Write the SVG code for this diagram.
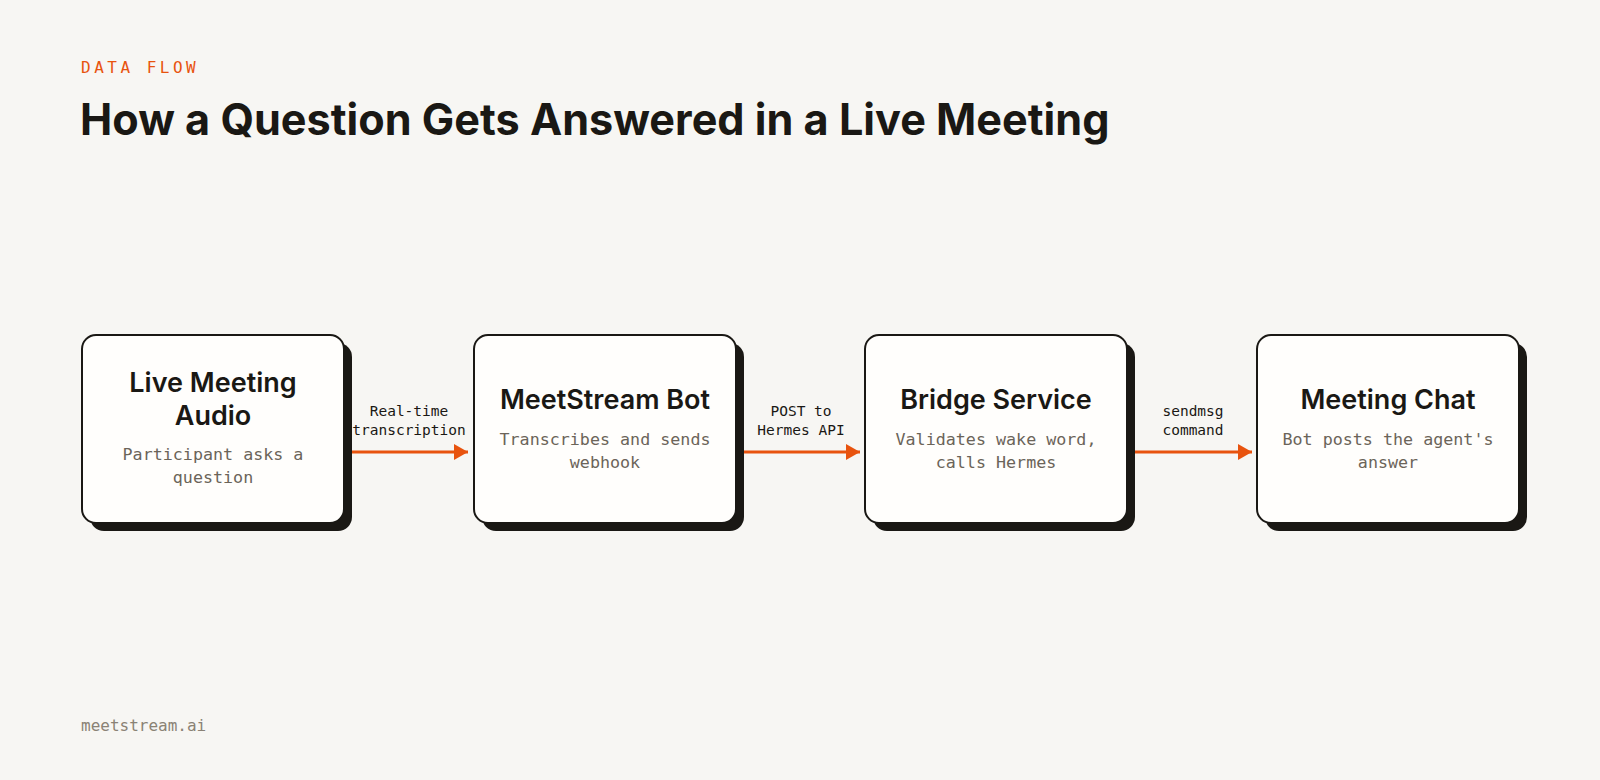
<svg xmlns="http://www.w3.org/2000/svg" width="1600" height="780" viewBox="0 0 1600 780">
<defs>
<style>
.sh{fill:#1a1814}
.bx{fill:#fffefc;stroke:#1a1814;stroke-width:2}
.t{font-family:Inter,"Liberation Sans",sans-serif;font-weight:600;font-size:27px;fill:#1a1814;text-anchor:middle}
.s{font-family:"DejaVu Sans Mono","Liberation Mono",monospace;font-size:16.7px;fill:#6b6459;text-anchor:middle}
.l{font-family:"DejaVu Sans Mono","Liberation Mono",monospace;font-size:14.5px;fill:#1a1814;text-anchor:middle}
.c{stroke:#e8530e;stroke-width:3;fill:none}
</style>
<marker id="a" markerWidth="14" markerHeight="16" refX="14" refY="8" orient="auto" markerUnits="userSpaceOnUse" viewBox="0 0 14 16"><path d="M0,0 L14,8 L0,16 z" fill="#e8530e"/></marker>
</defs>
<rect width="1600" height="780" fill="#f7f6f3"/>
<text x="81" y="73" font-family="DejaVu Sans Mono,Liberation Mono,monospace" font-size="16" letter-spacing="3.5" fill="#e8530e">DATA FLOW</text>
<text x="80" y="135" font-family="Inter,Liberation Sans,sans-serif" font-weight="700" font-size="43.2" fill="#1a1814">How a Question Gets Answered in a Live Meeting</text>
<g id="n1"><rect class="sh" x="90" y="343" width="262" height="188" rx="14"/><rect class="bx" x="82" y="335" width="262" height="188" rx="14"/>
<text class="t" x="213" y="392">Live Meeting</text><text class="t" x="213" y="425">Audio</text>
<text class="s" x="213" y="460">Participant asks a</text><text class="s" x="213" y="483">question</text></g>
<g id="n2"><rect class="sh" x="482" y="343" width="262" height="188" rx="14"/><rect class="bx" x="474" y="335" width="262" height="188" rx="14"/>
<text class="t" x="605" y="409">MeetStream Bot</text>
<text class="s" x="605" y="445">Transcribes and sends</text><text class="s" x="605" y="468">webhook</text></g>
<g id="n3"><rect class="sh" x="873" y="343" width="262" height="188" rx="14"/><rect class="bx" x="865" y="335" width="262" height="188" rx="14"/>
<text class="t" x="996" y="409">Bridge Service</text>
<text class="s" x="996" y="445">Validates wake word,</text><text class="s" x="996" y="468">calls Hermes</text></g>
<g id="n4"><rect class="sh" x="1265" y="343" width="262" height="188" rx="14"/><rect class="bx" x="1257" y="335" width="262" height="188" rx="14"/>
<text class="t" x="1388" y="409">Meeting Chat</text>
<text class="s" x="1388" y="445">Bot posts the agent's</text><text class="s" x="1388" y="468">answer</text></g>
<g id="connectors">
<path class="c" d="M352,452 H468" marker-end="url(#a)"/>
<path class="c" d="M744,452 H860" marker-end="url(#a)"/>
<path class="c" d="M1135,452 H1252" marker-end="url(#a)"/>
<text class="l" x="409" y="416">Real-time</text><text class="l" x="409" y="435">transcription</text>
<text class="l" x="801" y="416">POST to</text><text class="l" x="801" y="435">Hermes API</text>
<text class="l" x="1193" y="416">sendmsg</text><text class="l" x="1193" y="435">command</text>
</g>
<text x="81" y="731" font-family="DejaVu Sans Mono,Liberation Mono,monospace" font-size="16" fill="#8a8275">meetstream.ai</text>
</svg>
